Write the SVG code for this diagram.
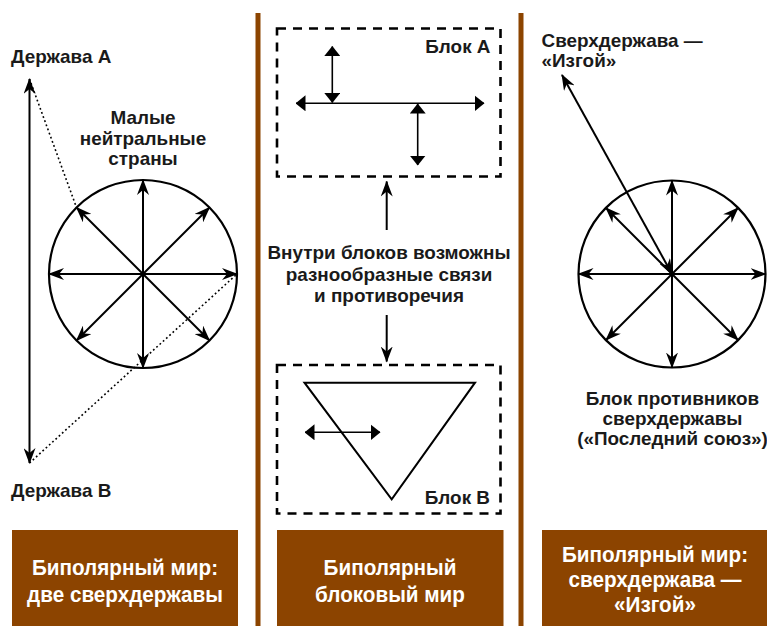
<svg xmlns="http://www.w3.org/2000/svg" width="767" height="626" viewBox="0 0 767 626">
<style>
text{font-family:"Liberation Sans","Arial",sans-serif;font-weight:700;fill:#1a1a1a}
.lbl{font-size:17.5px}
.mid{text-anchor:middle}
.end{text-anchor:end}
.box{fill:#8c4400}
.boxt{font-size:22px;fill:#ffffff;text-anchor:middle}
.ln{stroke:#000;stroke-width:2;fill:none}
.thin{stroke:#000;stroke-width:1.6;fill:none}
.circ{stroke:#000;stroke-width:2.2;fill:none}
.dot{stroke:#000;stroke-width:1.6;stroke-dasharray:1.8,2.6;fill:none}
.dash{stroke:#000;stroke-width:2.6;stroke-dasharray:9,7;fill:none}
.ba{marker-start:url(#barb);marker-end:url(#barb)}
.be{marker-end:url(#barb)}
.ta{marker-start:url(#tri);marker-end:url(#tri)}
</style>
<defs>
<marker id="barb" viewBox="0 0 16 12" refX="15" refY="6" markerWidth="16" markerHeight="12" markerUnits="userSpaceOnUse" orient="auto-start-reverse"><path d="M0,0 L16,6 L0,12 L5,6 z" fill="#000"/></marker>
<marker id="tri" viewBox="0 0 10 16" refX="9.5" refY="8" markerWidth="10" markerHeight="16" markerUnits="userSpaceOnUse" orient="auto-start-reverse"><path d="M0,0 L10,8 L0,16 z" fill="#000"/></marker>
</defs>
<rect width="767" height="626" fill="#fff"/>
<g id="dividers">
<rect x="255.5" y="13" width="5" height="613" class="box"/>
<rect x="518.5" y="13" width="5" height="613" class="box"/>
</g>
<g id="panel1">
<g id="neutral-circle">
<circle cx="143" cy="274" r="94" class="circ"/>
</g>
<g id="derzhava-a"><text class="lbl" transform="translate(11 63) scale(1.08 1)">Держава А</text></g>
<g id="derzhava-b"><text class="lbl" transform="translate(11 497) scale(1.08 1)">Держава В</text></g>
<g id="neutral-label">
<text class="lbl mid" transform="translate(143 124) scale(1.08 1)">Малые</text>
<text class="lbl mid" transform="translate(143 144.5) scale(1.08 1)">нейтральные</text>
<text class="lbl mid" transform="translate(143 165) scale(1.08 1)">страны</text>
</g>
</g>
<g id="panel2">
<g id="block-a"><rect x="277" y="28.5" width="223.5" height="148" class="dash"/><text class="lbl end" transform="translate(490.5 53) scale(1.08 1)">Блок А</text></g>
<g id="block-b"><rect x="277" y="365" width="223.5" height="148.5" class="dash"/><polygon points="304.5,382.7 475,382.7 391.7,499.3" class="ln"/><text class="lbl end" transform="translate(490 504) scale(1.08 1)">Блок В</text></g>
<g id="middle-label">
<text class="lbl mid" transform="translate(389 259) scale(1.08 1)">Внутри блоков возможны</text>
<text class="lbl mid" transform="translate(389 281) scale(1.08 1)">разнообразные связи</text>
<text class="lbl mid" transform="translate(389 302) scale(1.08 1)">и противоречия</text>
</g>
</g>
<g id="panel3">
<g id="opponents-circle"><circle cx="672" cy="274" r="93.5" class="circ"/></g>
<g id="rogue-label">
<text class="lbl" transform="translate(541.5 46.5) scale(1.08 1)">Сверхдержава —</text>
<text class="lbl" transform="translate(541.5 66.5) scale(1.08 1)">«Изгой»</text>
</g>
<g id="opponents-label">
<text class="lbl mid" transform="translate(672.5 405) scale(1.08 1)">Блок противников</text>
<text class="lbl mid" transform="translate(672.5 425) scale(1.08 1)">сверхдержавы</text>
<text class="lbl mid" transform="translate(672.5 445) scale(1.08 1)">(«Последний союз»)</text>
</g>
</g>
<g id="captions">
<g id="caption1"><rect x="12" y="530" width="226" height="96" class="box"/>
<text class="boxt" transform="translate(125 575) scale(0.94 1)">Биполярный мир:</text>
<text class="boxt" transform="translate(125 601.5) scale(0.94 1)">две сверхдержавы</text></g>
<g id="caption2"><rect x="277" y="530" width="226.5" height="96" class="box"/>
<text class="boxt" transform="translate(390 575) scale(0.94 1)">Биполярный</text>
<text class="boxt" transform="translate(390 601.5) scale(0.94 1)">блоковый мир</text></g>
<g id="caption3"><rect x="542" y="530" width="225" height="96" class="box"/>
<text class="boxt" transform="translate(655 561.5) scale(0.94 1)">Биполярный мир:</text>
<text class="boxt" transform="translate(655 586.5) scale(0.94 1)">сверхдержава —</text>
<text class="boxt" transform="translate(655 611.5) scale(0.94 1)">«Изгой»</text></g>
</g>
<g id="connectors">
<line x1="29.5" y1="79" x2="29.5" y2="463" class="ln ba"/>
<line x1="29.5" y1="79" x2="76.5" y2="207.5" class="dot"/>
<line x1="29.5" y1="463" x2="237" y2="274" class="dot"/>
<line x1="143" y1="274" x2="143" y2="180" class="ln be"/>
<line x1="143" y1="274" x2="143" y2="368" class="ln be"/>
<line x1="143" y1="274" x2="49" y2="274" class="ln be"/>
<line x1="143" y1="274" x2="237" y2="274" class="ln be"/>
<line x1="143" y1="274" x2="76.5" y2="207.5" class="ln be"/>
<line x1="143" y1="274" x2="209.5" y2="207.5" class="ln be"/>
<line x1="143" y1="274" x2="76.5" y2="340.5" class="ln be"/>
<line x1="143" y1="274" x2="209.5" y2="340.5" class="ln be"/>
<line x1="296" y1="103.3" x2="484" y2="103.3" class="thin ta"/>
<line x1="332.3" y1="46.5" x2="332.3" y2="102.5" class="thin ta"/>
<line x1="417.7" y1="104" x2="417.7" y2="165" class="thin ta"/>
<line x1="305" y1="432.3" x2="380" y2="432.3" class="thin ta"/>
<line x1="386.7" y1="230" x2="386.7" y2="181.5" class="ln be"/>
<line x1="386.7" y1="315" x2="386.7" y2="361.5" class="ln be"/>
<line x1="672" y1="274" x2="672" y2="180.5" class="ln be"/>
<line x1="672" y1="274" x2="672" y2="367.5" class="ln be"/>
<line x1="672" y1="274" x2="578.5" y2="274" class="ln be"/>
<line x1="672" y1="274" x2="765.5" y2="274" class="ln be"/>
<line x1="672" y1="274" x2="606" y2="208" class="ln be"/>
<line x1="672" y1="274" x2="738" y2="208" class="ln be"/>
<line x1="672" y1="274" x2="606" y2="340" class="ln be"/>
<line x1="672" y1="274" x2="738" y2="340" class="ln be"/>
<line x1="672" y1="274" x2="562" y2="75" class="ln ba"/>
</g>
</svg>
